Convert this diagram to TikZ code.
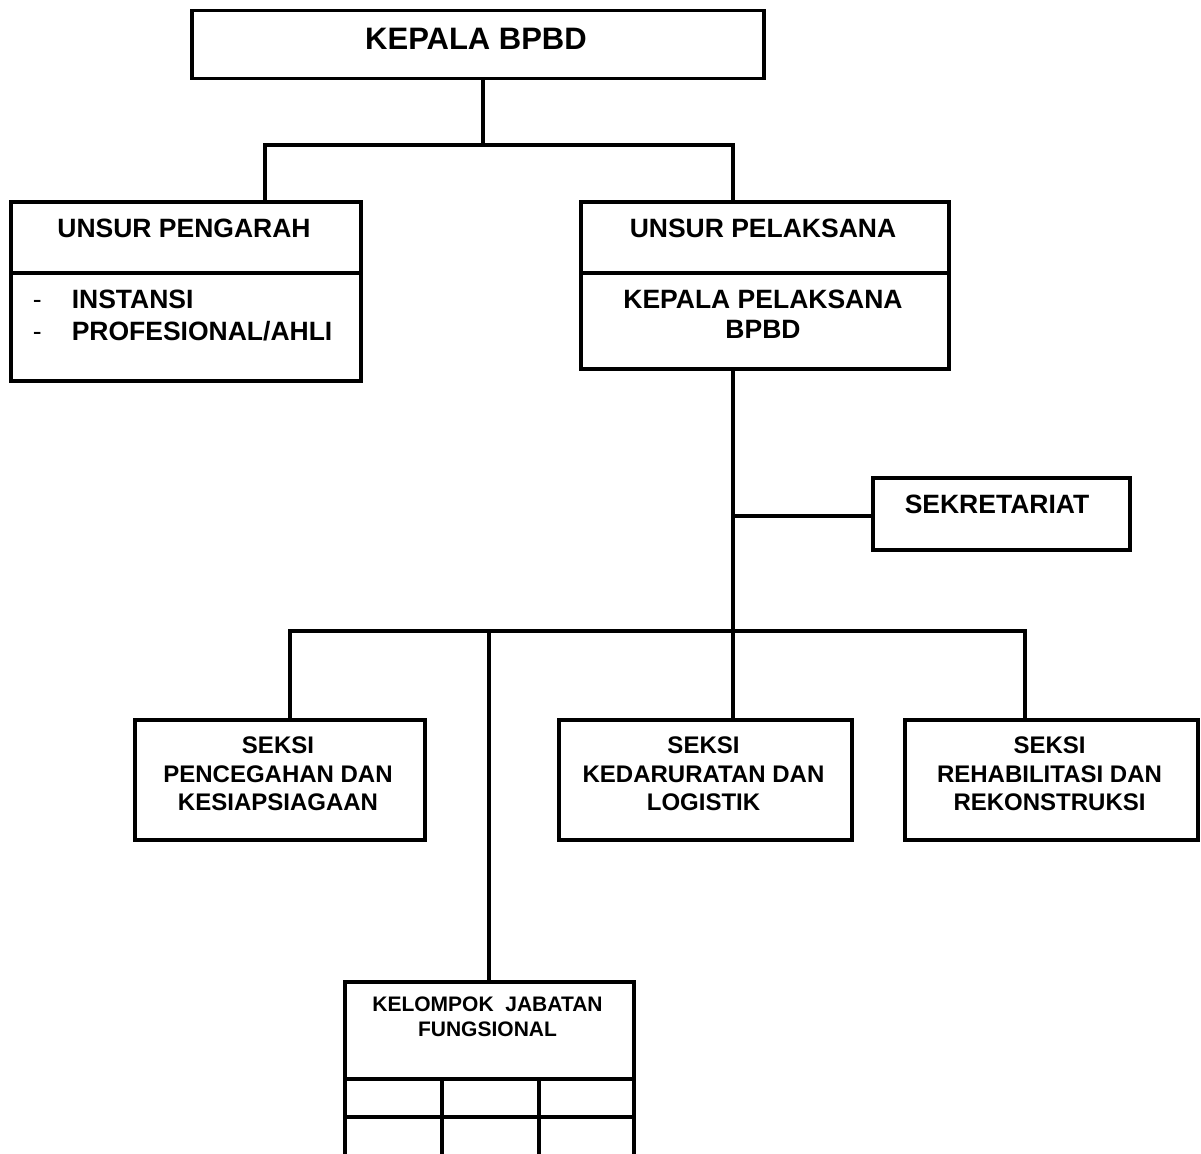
\documentclass[tikz,border=0pt]{standalone}
\usepackage{fontspec}
\setmainfont{Liberation Sans}
\begin{document}
\begin{tikzpicture}[x=1pt,y=1pt,line width=3.5pt,
  box/.style={draw,rectangle,inner sep=0pt,anchor=north west,line width=3.5pt},
  conn/.style={line width=3.5pt},
  big/.style={font=\fontsize{31}{31}\selectfont\bfseries,inner sep=0pt,anchor=base},
  mid/.style={font=\fontsize{26.5}{26.5}\selectfont\bfseries,inner sep=0pt,anchor=base},
  sm/.style={font=\fontsize{24}{24}\selectfont\bfseries,inner sep=0pt,anchor=base},
  xs/.style={font=\fontsize{21}{21}\selectfont\bfseries,inner sep=0pt,anchor=base},
  dsh/.style={font=\fontsize{26.5}{26.5}\selectfont,inner sep=0pt,anchor=base west}]
\useasboundingbox (0,0) rectangle (1201,-1153);
\clip (0,0) rectangle (1201,-1153);
\fill[white] (0,0) rectangle (1201,-1153);

% boxes
\node[box,minimum width=572pt,minimum height=68pt] (kep) at (190,-9) {};
\node[box,minimum width=350pt,minimum height=71pt] (pengT) at (9,-200) {};
\node[box,minimum width=350pt,minimum height=108pt] (pengB) at (9,-271) {};
\node[box,minimum width=368pt,minimum height=71pt] (pelT) at (579,-200) {};
\node[box,minimum width=368pt,minimum height=96pt] (pelB) at (579,-271) {};
\node[box,minimum width=257pt,minimum height=72pt] (sek) at (871,-476) {};
\node[box,minimum width=290pt,minimum height=120pt] (s1) at (133,-718) {};
\node[box,minimum width=293pt,minimum height=120pt] (s2) at (557,-718) {};
\node[box,minimum width=293pt,minimum height=120pt] (s3) at (903,-718) {};
\node[box,minimum width=289pt,minimum height=97pt] (kelT) at (343,-980) {};
\node[box,minimum width=97pt,minimum height=38pt] (c11) at (343,-1077) {};
\node[box,minimum width=97pt,minimum height=38pt] (c12) at (440,-1077) {};
\node[box,minimum width=95pt,minimum height=38pt] (c13) at (537,-1077) {};
\node[box,minimum width=97pt,minimum height=55pt] (c21) at (343,-1115) {};
\node[box,minimum width=97pt,minimum height=55pt] (c22) at (440,-1115) {};
\node[box,minimum width=95pt,minimum height=55pt] (c23) at (537,-1115) {};

% texts
\node[big] (tkep) at (476,-50) {KEPALA BPBD};
\node[mid] (tpeng) at (184,-237) {UNSUR PENGARAH};
\node[dsh] (d1) at (31,-308) {-};
\node[dsh] (d2) at (31,-340) {-};
\node[mid,anchor=base west] (i1) at (70,-308) {INSTANSI};
\node[mid,anchor=base west] (i2) at (70,-340) {PROFESIONAL/AHLI};
\node[mid] (tpel) at (763,-237) {UNSUR PELAKSANA};
\node[mid] (tkp1) at (763,-308) {KEPALA PELAKSANA};
\node[mid] (tkp2) at (763,-338) {BPBD};
\node[mid] (tsek) at (997,-513) {SEKRETARIAT};
\node[sm] (s1a) at (278,-753) {SEKSI};
\node[sm] (s1b) at (278,-782) {PENCEGAHAN DAN};
\node[sm] (s1c) at (278,-810) {KESIAPSIAGAAN};
\node[sm] (s2a) at (703.5,-753) {SEKSI};
\node[sm] (s2b) at (703.5,-782) {KEDARURATAN DAN};
\node[sm] (s2c) at (703.5,-810) {LOGISTIK};
\node[sm] (s3a) at (1049.5,-753) {SEKSI};
\node[sm] (s3b) at (1049.5,-782) {REHABILITASI DAN};
\node[sm] (s3c) at (1049.5,-810) {REKONSTRUKSI};
\node[xs] (k1) at (487.5,-1011) {KELOMPOK\ \ JABATAN};
\node[xs] (k2) at (487.5,-1036) {FUNGSIONAL};

% connectors
\coordinate (j1) at (483,-145);
\coordinate (jl) at (265,-145);
\coordinate (jr) at (733,-145);
\draw[conn] (kep.south -| j1) -- (j1);
\draw[conn] (pengT.north -| jl) -- (jl) -- (jr) -- (pelT.north -| jr);
\coordinate (t1) at (733,-516);
\coordinate (t2) at (733,-631);
\draw[conn] (pelB.south -| t1) -- (t2);
\draw[conn] (t1) -- (sek.west |- t1);
\coordinate (b1) at (290,-631);
\coordinate (b2) at (489,-631);
\coordinate (b4) at (1025,-631);
\draw[conn] (s1.north -| b1) -- (b1) -- (b4) -- (s3.north -| b4);
\draw[conn] (b2) -- (kelT.north -| b2);
\draw[conn] (t2) -- (s2.north -| t2);
\end{tikzpicture}
\end{document}
